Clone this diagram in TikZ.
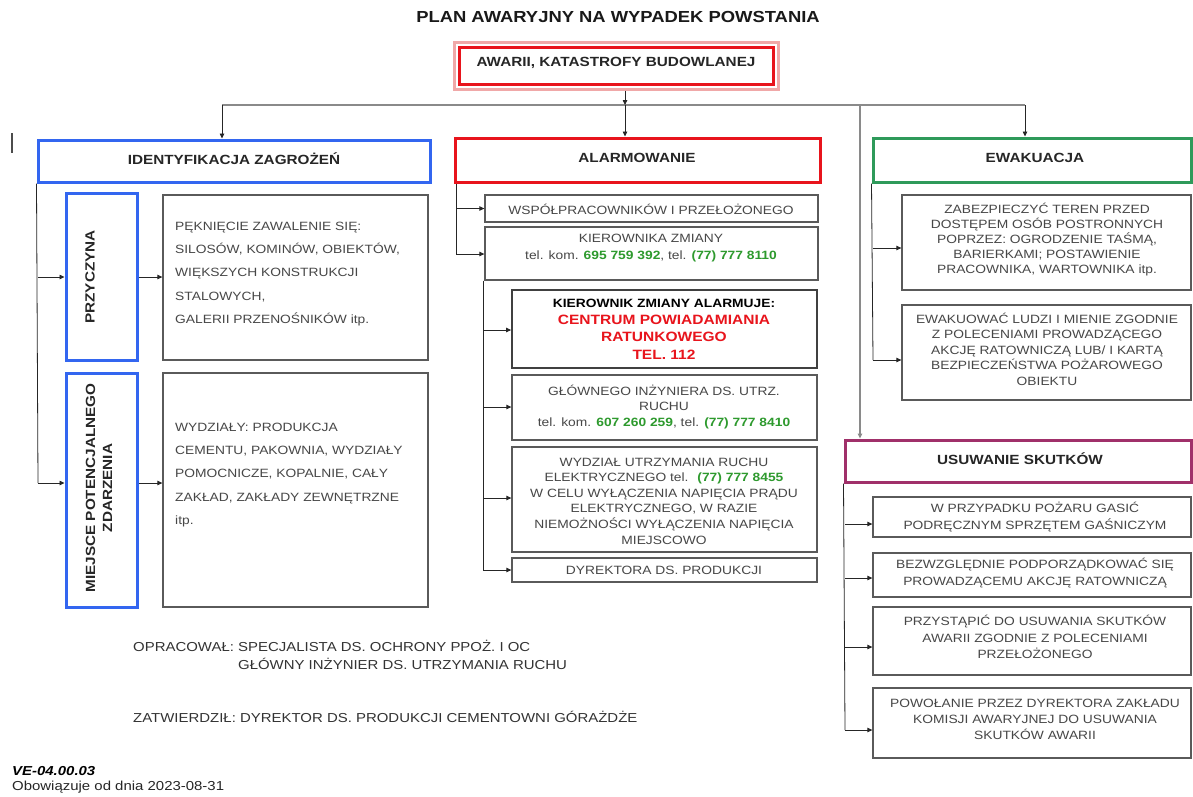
\documentclass[tikz,border=0pt]{standalone}
\usepackage{fontspec}
\setmainfont{Liberation Sans}[FakeStretch=1.15]
\usetikzlibrary{arrows.meta}
\definecolor{cblue}{HTML}{3366F0}
\definecolor{cred}{HTML}{E8141C}
\definecolor{chalo}{HTML}{F0A8A8}
\definecolor{cgreen}{HTML}{2E9A5A}
\definecolor{cpurp}{HTML}{A0306A}
\definecolor{tgreen}{HTML}{2E9A2E}
\definecolor{tgray}{HTML}{474747}
\definecolor{bgray}{HTML}{5A5A5A}
\definecolor{lgray}{HTML}{8A8A8A}
\newcommand\FBody{\fontsize{12}{15.5}\selectfont}
\newcommand\FHdr{\fontsize{13.3}{16}\selectfont\bfseries}
\begin{document}
\begin{tikzpicture}[x=1pt,y=-1pt,
  hdr/.style={draw=#1, line width=3pt, inner sep=0pt},
  bx/.style={draw=bgray, line width=1.3pt, inner sep=0pt},
  txt/.style={font=\FBody, text=tgray, align=center, inner sep=0pt},
  htxt/.style={font=\FHdr, text=black!85, inner sep=0pt},
  arr/.style={draw=black!85, line width=0.8pt, -{Triangle[length=5pt,width=4.5pt]}},
  ln/.style={draw=black!85, line width=0.8pt},
  bus/.style={draw=lgray, line width=2pt},
  gtel/.style={}]
\fill[white] (0,0) rectangle (1193,796);
\useasboundingbox (0,0) rectangle (1193,796);

% title
\node[font=\fontsize{16}{18}\selectfont\bfseries, text=black!90, inner sep=0pt] (title) at (618,17) {PLAN AWARYJNY NA WYPADEK POWSTANIA};

% top box
\node[hdr=cred, minimum width=314, minimum height=37] (top) at (616,65.5) {};
\draw[chalo, line width=3pt] ([shift={(-3.5,-3.5)}]top.north west) rectangle ([shift={(3.5,3.5)}]top.south east);
\node[htxt] (topt) at (616,63) {AWARII, KATASTROFY BUDOWLANEJ};

% stray mark
\draw[black!70, line width=1.2pt] (12,133) -- (12,153);

% left column
\node[hdr=cblue, minimum width=392, minimum height=42] (ident) at (234,161) {};
\node[htxt] (identt) at (234,159) {IDENTYFIKACJA ZAGROŻEŃ};
\node[hdr=cblue, minimum width=71, minimum height=167] (przy) at (101.5,276.5) {};
\node[htxt, rotate=90] (przyt) at (90,277) {PRZYCZYNA};
\node[bx, minimum width=265, minimum height=165] (przyd) at (295.5,277.5) {};
\node[txt, align=left, font=\fontsize{12}{23.3}\selectfont, anchor=west] (przydt) at (175,274)
 {PĘKNIĘCIE ZAWALENIE SIĘ:\\SILOSÓW, KOMINÓW, OBIEKTÓW,\\WIĘKSZYCH KONSTRUKCJI\\STALOWYCH,\\GALERII PRZENOŚNIKÓW itp.};
\node[hdr=cblue, minimum width=71, minimum height=234] (miej) at (101.5,490) {};
\node[htxt, rotate=90, align=center, font=\fontsize{13.3}{17}\selectfont\bfseries] (miejt) at (99,488) {MIEJSCE POTENCJALNEGO\\ZDARZENIA};
\node[bx, minimum width=265, minimum height=234] (miejd) at (295.5,490) {};
\node[txt, align=left, font=\fontsize{12}{23.3}\selectfont, anchor=west] (miejdt) at (175,475)
 {WYDZIAŁY: PRODUKCJA\\CEMENTU, PAKOWNIA, WYDZIAŁY\\POMOCNICZE, KOPALNIE, CAŁY\\ZAKŁAD, ZAKŁADY ZEWNĘTRZNE\\itp.};

% middle column
\node[hdr=cred, minimum width=365, minimum height=44] (alarm) at (637.5,160) {};
\node[htxt] (alarmt) at (637,158) {ALARMOWANIE};
\node[bx, minimum width=333, minimum height=27] (wsp) at (651.5,208.5) {};
\node[txt] (wspt) at (651,209) {WSPÓŁPRACOWNIKÓW I PRZEŁOŻONEGO};
\node[bx, minimum width=333, minimum height=53] (kier) at (651.5,253.5) {};
\node[txt, font=\fontsize{12}{17}\selectfont] (kiert) at (651,248.5)
 {KIEROWNIKA ZMIANY\\tel. kom. \textbf{\textcolor{tgreen}{695 759 392}}, tel. \textbf{\textcolor{tgreen}{(77) 777 8110}}};
\node[bx, line width=1.8pt, draw=black!75, minimum width=305, minimum height=78] (alrm) at (664.5,329) {};
\node[txt, font=\fontsize{13.5}{17.3}\selectfont\bfseries] (alrmt) at (664,329)
 {\textcolor{black}{\fontsize{12}{17.3}\selectfont KIEROWNIK ZMIANY ALARMUJE:}\\\textcolor{cred}{CENTRUM POWIADAMIANIA}\\\textcolor{cred}{RATUNKOWEGO}\\\textcolor{cred}{TEL. 112}};
\node[bx, minimum width=305, minimum height=65] (glow) at (664.5,407.5) {};
\node[txt] (glowt) at (664,407)
 {GŁÓWNEGO INŻYNIERA DS. UTRZ.\\RUCHU\\tel. kom. \textbf{\textcolor{tgreen}{607 260 259}}, tel. \textbf{\textcolor{tgreen}{(77) 777 8410}}};
\node[bx, minimum width=305, minimum height=105] (wydz) at (664.5,499.5) {};
\node[txt, font=\fontsize{12}{15.6}\selectfont] (wydzt) at (664,501)
 {WYDZIAŁ UTRZYMANIA RUCHU\\ELEKTRYCZNEGO tel. \ \textbf{\textcolor{tgreen}{(77) 777 8455}}\\W CELU WYŁĄCZENIA NAPIĘCIA PRĄDU\\ELEKTRYCZNEGO, W RAZIE\\NIEMOŻNOŚCI WYŁĄCZENIA NAPIĘCIA\\MIEJSCOWO};
\node[bx, minimum width=305, minimum height=24] (dyr) at (664.5,570) {};
\node[txt] (dyrt) at (664,570) {DYREKTORA DS. PRODUKCJI};

% right column
\node[hdr=cgreen, minimum width=318, minimum height=44] (ewak) at (1032,160) {};
\node[htxt] (ewakt) at (1035,158) {EWAKUACJA};
\node[bx, minimum width=289, minimum height=95] (zab) at (1046.5,242.5) {};
\node[txt, font=\fontsize{12}{15}\selectfont] (zabt) at (1047,240)
 {ZABEZPIECZYĆ TEREN PRZED\\DOSTĘPEM OSÓB POSTRONNYCH\\POPRZEZ: OGRODZENIE TAŚMĄ,\\BARIERKAMI; POSTAWIENIE\\PRACOWNIKA, WARTOWNIKA itp.};
\node[bx, minimum width=289, minimum height=95] (ewk2) at (1046.5,352.5) {};
\node[txt, font=\fontsize{12}{15.5}\selectfont] (ewk2t) at (1047,349)
 {EWAKUOWAĆ LUDZI I MIENIE ZGODNIE\\Z POLECENIAMI PROWADZĄCEGO\\AKCJĘ RATOWNICZĄ LUB/ I KARTĄ\\BEZPIECZEŃSTWA POŻAROWEGO\\OBIEKTU};
\node[hdr=cpurp, minimum width=346, minimum height=42] (usuw) at (1018,461) {};
\node[htxt] (usuwt) at (1020,459) {USUWANIE SKUTKÓW};
\node[bx, minimum width=318, minimum height=40] (w1) at (1032,517) {};
\node[txt, font=\fontsize{12}{17.5}\selectfont] (w1t) at (1035,517) {W PRZYPADKU POŻARU GASIĆ\\PODRĘCZNYM SPRZĘTEM GAŚNICZYM};
\node[bx, minimum width=318, minimum height=44] (w2) at (1032,575) {};
\node[txt, font=\fontsize{12}{17}\selectfont] (w2t) at (1035,573.5) {BEZWZGLĘDNIE PODPORZĄDKOWAĆ SIĘ\\PROWADZĄCEMU AKCJĘ RATOWNICZĄ};
\node[bx, minimum width=318, minimum height=68] (w3) at (1032,641) {};
\node[txt, font=\fontsize{12}{16.5}\selectfont] (w3t) at (1035,637) {PRZYSTĄPIĆ DO USUWANIA SKUTKÓW\\AWARII ZGODNIE Z POLECENIAMI\\PRZEŁOŻONEGO};
\node[bx, minimum width=318, minimum height=70] (w4) at (1032,723) {};
\node[txt, font=\fontsize{12}{16}\selectfont] (w4t) at (1035,719) {POWOŁANIE PRZEZ DYREKTORA ZAKŁADU\\KOMISJI AWARYJNEJ DO USUWANIA\\SKUTKÓW AWARII};

% bottom texts
\node[font=\fontsize{13}{18}\selectfont, text=black!80, inner sep=0pt, anchor=north west] (opr) at (133,639)
 {\begin{tabular}{@{}l@{ }l@{}}OPRACOWAŁ: & SPECJALISTA DS. OCHRONY PPOŻ. I OC\\ & GŁÓWNY INŻYNIER DS. UTRZYMANIA RUCHU\end{tabular}};
\node[font=\fontsize{13}{16}\selectfont, text=black!80, inner sep=0pt, anchor=west] (zat) at (133,717)
 {ZATWIERDZIŁ: DYREKTOR DS. PRODUKCJI CEMENTOWNI GÓRAŻDŻE};
\node[font=\fontsize{13}{16}\selectfont\bfseries\itshape, text=black, inner sep=0pt, anchor=west] (ve) at (12,771) {VE-04.00.03};
\node[font=\fontsize{13}{16}\selectfont, text=black!85, inner sep=0pt, anchor=west] (obo) at (12,787) {Obowiązuje od dnia 2023-08-31};

% connectors: top bus
\coordinate (b1) at (222,105);
\coordinate (b2) at (625,105);
\coordinate (b3) at (860,105);
\coordinate (b4) at (1025,105);
\draw[bus] (b1) -- (b4);
\draw[arr] ([yshift=-5pt]top.south -| b2) -- (b2);
\draw[arr] (b1) -- (b1 |- ident.north);
\draw[arr] (b2) -- (b2 |- alarm.north);
\draw[arr] (b4) -- (b4 |- ewak.north);
\draw[bus, -{Triangle[length=5pt,width=4.5pt]}] (b3) -- (b3 |- usuw.north);

% left trunk
\coordinate (l1) at (38,277);
\coordinate (l2) at (38,483);
\draw[ln] (ident.south west) -- (l2);
\draw[arr] (l1) -- (l1 -| przy.west);
\draw[arr] (l2) -- (l2 -| miej.west);
\draw[arr] (przy.east |- l1) -- (przyd.west |- l1);
\draw[arr] (miej.east |- l2) -- (miejd.west |- l2);

% middle trunks
\coordinate (m1) at (456,208.5);
\coordinate (m2) at (456,254);
\draw[ln] (alarm.south -| m1) -- (m2);
\draw[arr] (m1) -- (m1 -| wsp.west);
\draw[arr] (m2) -- (m2 -| kier.west);
\coordinate (m3) at (483,330);
\coordinate (m4) at (483,407);
\coordinate (m5) at (483,498);
\coordinate (m6) at (483,570);
\draw[ln] (kier.south -| m3) -- (m6);
\draw[arr] (m3) -- (m3 -| alrm.west);
\draw[arr] (m4) -- (m4 -| glow.west);
\draw[arr] (m5) -- (m5 -| wydz.west);
\draw[arr] (m6) -- (m6 -| dyr.west);

% right trunks
\coordinate (r1) at (873,248);
\coordinate (r2) at (873,360);
\draw[ln] (ewak.south west) -- (r2);
\draw[arr] (r1) -- (r1 -| zab.west);
\draw[arr] (r2) -- (r2 -| ewk2.west);
\coordinate (u1) at (845,524);
\coordinate (u2) at (845,578);
\coordinate (u3) at (845,647);
\coordinate (u4) at (845,730);
\draw[ln] (usuw.south west) -- (u4);
\draw[arr] (u1) -- (u1 -| w1.west);
\draw[arr] (u2) -- (u2 -| w2.west);
\draw[arr] (u3) -- (u3 -| w3.west);
\draw[arr] (u4) -- (u4 -| w4.west);
\end{tikzpicture}
\end{document}
